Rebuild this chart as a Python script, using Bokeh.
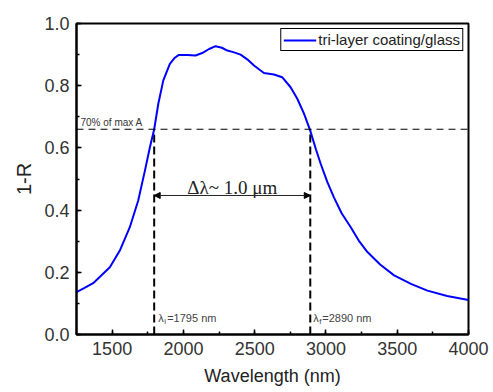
from bokeh.plotting import figure
from bokeh.models import Range1d, SingleIntervalTicker, NumeralTickFormatter, Arrow, NormalHead, Span
from bokeh.core.properties import value
from bokeh.embed import file_html
from bokeh.resources import INLINE

# ---- data ----
wavelength = [1250, 1300, 1367, 1420, 1484, 1554, 1624, 1683, 1730, 1765, 1795,
              1824, 1859, 1905, 1940, 1968, 2027, 2085, 2132, 2180, 2226, 2270, 2308, 2350,
              2401, 2450, 2495, 2565, 2635, 2694, 2752, 2799, 2846, 2888, 2930, 2963,
              3010, 3056, 3110, 3174, 3230, 3291, 3380, 3478, 3600, 3712, 3850, 4000]
one_minus_r = [0.136, 0.148, 0.165, 0.188, 0.216, 0.270, 0.345, 0.431, 0.527, 0.602, 0.66,
               0.742, 0.817, 0.870, 0.890, 0.899, 0.899, 0.897, 0.905, 0.918, 0.927, 0.922, 0.913, 0.908,
               0.900, 0.884, 0.865, 0.841, 0.836, 0.827, 0.795, 0.758, 0.710, 0.658, 0.595, 0.549,
               0.49, 0.441, 0.39, 0.345, 0.302, 0.265, 0.225, 0.190, 0.162, 0.141, 0.124, 0.111]
series_name = "tri-layer coating/glass"
lam_i = 1795
lam_f = 2890
level_70 = 0.66
arrow_y = 0.447
delta_text = "Δλ~ 1.0 μm"
level_text = "70% of max A"
lam_i_text = "=1795 nm"
lam_f_text = "=2890 nm"
x_label = "Wavelength (nm)"
y_label = "1-R"

SANS = value("Liberation Sans")

p = figure(width=493, height=392, output_backend="svg", toolbar_location=None,
           x_range=Range1d(1250, 4000), y_range=Range1d(0, 1.0))
p.min_border_left = 76
p.min_border_right = 25
p.min_border_top = 23
p.min_border_bottom = 58
p.xgrid.visible = False
p.ygrid.visible = False
p.outline_line_color = "black"
p.outline_line_width = 2
p.outline_line_alpha = 1
p.background_fill_color = "white"
p.border_fill_color = "white"

p.xaxis.ticker = SingleIntervalTicker(interval=500, num_minor_ticks=2)
p.yaxis.ticker = SingleIntervalTicker(interval=0.2, num_minor_ticks=2)
p.yaxis.formatter = NumeralTickFormatter(format="0.0")
for ax in (p.xaxis, p.yaxis):
    ax.axis_line_color = "black"
    ax.axis_line_width = 2
    ax.major_tick_in = 5
    ax.major_tick_out = 0
    ax.minor_tick_in = 3
    ax.minor_tick_out = 0
    ax.major_tick_line_color = "black"
    ax.major_tick_line_width = 1.5
    ax.minor_tick_line_color = "black"
    ax.minor_tick_line_width = 1.5
    ax.major_label_text_font = "Liberation Sans"
    ax.major_label_text_font_size = "18px"
    ax.major_label_text_color = "#333333"
    ax.axis_label_text_font = "Liberation Sans"
    ax.axis_label_text_font_style = "normal"
    ax.axis_label_text_color = "#222222"
p.xaxis.major_label_standoff = 7
p.yaxis.major_label_standoff = 7
p.xaxis.axis_label = x_label
p.xaxis.axis_label_text_font_size = "18px"
p.xaxis.axis_label_standoff = 8
p.yaxis.axis_label = y_label
p.yaxis.axis_label_text_font_size = "20px"
p.yaxis.axis_label_standoff = 6

# horizontal dashed 70% line
p.add_layout(Span(location=level_70, dimension="width", line_color="black",
                  line_width=1, line_dash="7 5"))
# vertical dashed lines
p.segment(x0=[lam_i, lam_f], y0=[0, 0], x1=[lam_i, lam_f], y1=[level_70, level_70],
          line_color="black", line_width=2, line_dash="8 4")

# curve
p.line(wavelength, one_minus_r, line_color="#0000ff", line_width=2, legend_label=series_name)

# arrow
p.add_layout(Arrow(start=NormalHead(size=6, fill_color="black", line_color="black"),
                   end=NormalHead(size=6, fill_color="black", line_color="black"),
                   x_start=lam_i, y_start=arrow_y, x_end=lam_f, y_end=arrow_y,
                   line_color="#222222", line_width=1))

p.text(x=[(lam_i + lam_f) / 2], y=[0.473], text=[delta_text], text_align="center",
       text_baseline="alphabetic", text_font=value("Liberation Serif"),
       text_font_size="19px", text_color="#222222")

p.text(x=[1250], y=[0.683], text=[level_text], x_offset=4, text_align="left",
       text_baseline="alphabetic", text_font=SANS, text_font_size="10px",
       text_color="#333333")

# lambda labels
for lam, sub, rest, off in ((lam_i, "i", lam_i_text, 4), (lam_f, "f", lam_f_text, 3)):
    p.text(x=[lam], y=[0.052], text=["λ"], x_offset=off, text_align="left",
           text_baseline="alphabetic", text_font=SANS, text_font_size="11px",
           text_color="#444444")
    p.text(x=[lam], y=[0.052], text=[sub], x_offset=off + 6, y_offset=3, text_align="left",
           text_baseline="alphabetic", text_font=SANS, text_font_size="8px",
           text_color="#444444")
    p.text(x=[lam], y=[0.052], text=[rest], x_offset=off + 9, text_align="left",
           text_baseline="alphabetic", text_font=SANS, text_font_size="11px",
           text_color="#444444")

lg = p.legend[0]
lg.location = "top_right"
lg.margin = 5
lg.padding = 2
lg.spacing = 0
lg.glyph_width = 33
lg.glyph_height = 14
lg.label_height = 14
lg.label_standoff = 2
lg.label_text_font = "Liberation Sans"
lg.label_text_font_size = "15px"
lg.label_text_color = "#222222"
lg.border_line_color = "black"
lg.border_line_width = 1
lg.border_line_alpha = 1
lg.background_fill_alpha = 1

open("out.html", "w").write(file_html(p, INLINE))
